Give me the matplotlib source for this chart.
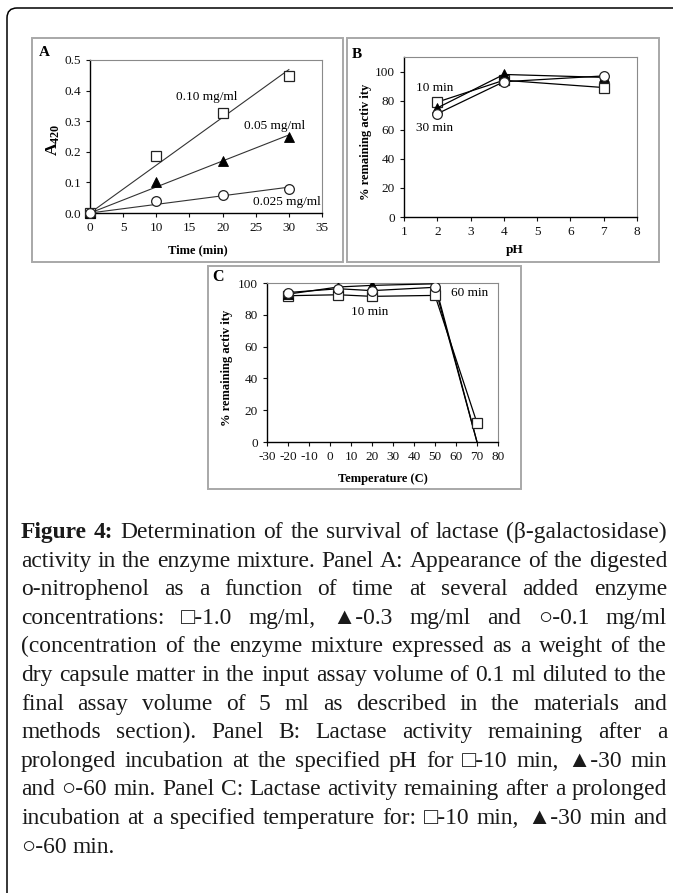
import matplotlib
matplotlib.use('Agg')
import matplotlib.pyplot as plt
import numpy as np
from matplotlib.patches import Rectangle, FancyBboxPatch

W, H = 673, 893
SERIF = ['Liberation Serif', 'DejaVu Serif', 'DejaVu Sans']
plt.rcParams['font.family'] = SERIF
plt.rcParams['mathtext.fontset'] = 'custom'
plt.rcParams['mathtext.rm'] = 'Liberation Serif'
plt.rcParams['mathtext.bf'] = 'Liberation Serif:bold'
plt.rcParams['axes.unicode_minus'] = False

# ---------------- data ----------------
a_time = [0, 10, 20, 30]
a_010 = [0, 0.187, 0.328, 0.448]
a_005 = [0, 0.100, 0.170, 0.250]
a_0025 = [0, 0.038, 0.058, 0.080]
a_labels = ['0.10 mg/ml', '0.05 mg/ml', '0.025 mg/ml']

b_ph = [2, 4, 7]
b_10 = [79, 94, 89]
b_30 = [75, 98, 96]
b_60 = [71, 93, 97]
b_labels = ['10 min', '30 min']

c_temp = [-20, 4, 20, 50, 70]
c_10 = [92, 92.6, 91.6, 92.2, 12]
c_30 = [93, 97.5, 98.5, 99.5, 0]
c_60 = [94, 96.4, 95.2, 97.3, 0]
c_labels = ['60 min', '10 min']

caption_lines = [
    "Figure 4: Determination of the survival of lactase (\u03b2-galactosidase)",
    "activity in the enzyme mixture. Panel A: Appearance of the digested",
    "o-nitrophenol as a function of time at several added enzyme",
    "concentrations: \u25a1-1.0 mg/ml, \u25b2-0.3 mg/ml and \u25cb-0.1 mg/ml",
    "(concentration of the enzyme mixture expressed as a weight of the",
    "dry capsule matter in the input assay volume of 0.1 ml diluted to the",
    "final assay volume of 5 ml as described in the materials and",
    "methods section). Panel B: Lactase activity remaining after a",
    "prolonged incubation at the specified pH for \u25a1-10 min, \u25b2-30 min",
    "and \u25cb-60 min. Panel C: Lactase activity remaining after a prolonged",
    "incubation at a specified temperature for: \u25a1-10 min, \u25b2-30 min and",
    "\u25cb-60 min.",
]
bold_words = 2  # "Figure 4:"

# ---------------- figure ----------------
fig = plt.figure(figsize=(W / 100, H / 100), dpi=100)
fig.patch.set_facecolor('white')


def fx(x):
    return x / W


def fy(y):
    return 1 - y / H


def add_ax(x0, y0, x1, y1):
    return fig.add_axes([fx(x0), fy(y1), (x1 - x0) / W, (y1 - y0) / H])


def ftext(x, y, s, **kw):
    return fig.text(fx(x), fy(y), s, **kw)


# outer rounded frame (extends beyond right & bottom)
frame = FancyBboxPatch((0.07, -0.5), 7.2, (H - 8) / 100 + 0.5,
                       boxstyle='round,pad=0,rounding_size=0.1',
                       transform=fig.dpi_scale_trans, fill=False,
                       edgecolor='black', lw=1.1)
fig.add_artist(frame)

# panel boxes
for (x0, y0, x1, y1) in [(32, 38, 343, 262), (347, 38, 659, 262), (208, 266, 521, 489)]:
    fig.add_artist(Rectangle((fx(x0), fy(y1)), (x1 - x0) / W, (y1 - y0) / H,
                             transform=fig.transFigure, fill=False,
                             edgecolor='#a8a8a8', lw=1.4))

TICK = 9.5
LAB = 9
ANN = 9.5


def style(ax):
    for s in ['top', 'right']:
        ax.spines[s].set_color('#8a8a8a')
        ax.spines[s].set_linewidth(0.8)
    for s in ['left', 'bottom']:
        ax.spines[s].set_color('black')
        ax.spines[s].set_linewidth(1.0)
    ax.tick_params(direction='out', length=3, width=0.8, labelsize=TICK,
                   pad=3.5, top=False, right=False, colors='#111111')


MS = 7
sq = dict(marker='s', mfc='white', mec='#222222', ms=MS, mew=0.9)
tri = dict(marker='^', mfc='black', mec='black', ms=MS - 0.5, mew=0.6)
cir = dict(marker='o', mfc='white', mec='#222222', ms=MS, mew=0.9)

# ---------------- panel A ----------------
axA = add_ax(90, 60, 322, 213)
style(axA)
t = np.array(a_time, dtype=float)
for ys, mk in [(a_010, sq), (a_005, tri), (a_0025, cir)]:
    y = np.array(ys)
    slope = np.sum(t * y) / np.sum(t * t)
    axA.plot([t[0], t[-1]], [slope * t[0], slope * t[-1]], color='#333333', lw=0.8, zorder=2)
    axA.plot(t, y, ls='none', zorder=3, clip_on=False, **mk)
axA.set_xlim(0, 35)
axA.set_ylim(0, 0.5)
axA.set_xticks(np.arange(0, 36, 5))
axA.set_yticks(np.arange(0, 0.51, 0.1))
axA.yaxis.set_major_formatter(matplotlib.ticker.FormatStrFormatter('%.1f'))
axA.text(17.6, 0.38, a_labels[0], fontsize=ANN, ha='center', va='center')
axA.text(27.8, 0.285, a_labels[1], fontsize=ANN, ha='center', va='center')
axA.text(29.7, 0.036, a_labels[2], fontsize=ANN, ha='center', va='center')
ftext(44, 53, 'A', fontsize=11, weight='bold', ha='center', va='center')
ftext(53, 140, r'$\mathbf{A_{420}}$', fontsize=12.5, rotation=90, ha='center', va='center')
ftext(198, 250, 'Time (min)', fontsize=LAB, weight='bold', ha='center', va='center')

# ---------------- panel B ----------------
axB = add_ax(404, 57, 637, 217)
style(axB)
for ys, mk in [(b_10, sq), (b_30, tri), (b_60, cir)]:
    axB.plot(b_ph, ys, color='black', lw=0.9, zorder=3, **mk)
axB.set_xlim(1, 8)
axB.set_ylim(0, 110)
axB.set_xticks(range(1, 9))
axB.set_yticks(range(0, 101, 20))
axB.text(1.93, 89, b_labels[0], fontsize=ANN, ha='center', va='center')
axB.text(1.93, 61, b_labels[1], fontsize=ANN, ha='center', va='center')
ftext(357, 54, 'B', fontsize=11, weight='bold', ha='center', va='center')
ftext(366, 142, '% remaining activ ity', fontsize=LAB, weight='bold', rotation=90,
      ha='center', va='center')
ftext(515, 250, 'pH', fontsize=LAB + 0.5, weight='bold', ha='center', va='center')

# ---------------- panel C ----------------
axC = add_ax(267, 283, 498, 442)
style(axC)
for ys, mk in [(c_10, sq), (c_30, tri), (c_60, cir)]:
    ys = np.array(ys, dtype=float)
    tt = np.array(c_temp, dtype=float)
    axC.plot(tt, ys, color='black', lw=0.9, zorder=3)
    keep = ys > 0
    axC.plot(tt[keep], ys[keep], ls='none', zorder=4, **mk)
axC.set_xlim(-30, 80)
axC.set_ylim(0, 100)
axC.set_xticks(range(-30, 81, 10))
axC.set_yticks(range(0, 101, 20))
axC.text(66.5, 93.4, c_labels[0], fontsize=ANN, ha='center', va='center')
axC.text(19, 81.6, c_labels[1], fontsize=ANN, ha='center', va='center')
ftext(218, 277, 'C', fontsize=11.5, weight='bold', ha='center', va='center')
ftext(227, 368, '% remaining activ ity', fontsize=LAB, weight='bold', rotation=90,
      ha='center', va='center')
ftext(383, 479, 'Temperature (C)', fontsize=LAB, weight='bold', ha='center', va='center')

# ---------------- caption (justified) ----------------
renderer = fig.canvas.get_renderer()
X_LEFT, X_RIGHT = 21, 667
Y0, DY = 538, 28.6
TEXT_COLOR = '#1a1a1a'


def width_of(s, size, weight):
    tt = fig.text(0, 0, s, fontsize=size, weight=weight)
    w = tt.get_window_extent(renderer).width
    tt.remove()
    return w


def tokens(i, line):
    words = line.split(' ')
    out = []
    for j, w in enumerate(words):
        out.append((w, 'bold' if (i == 0 and j < bold_words) else 'normal'))
    return out


def natural(i, line, size):
    tk = tokens(i, line)
    sp = width_of('a a', size, 'normal') - width_of('aa', size, 'normal')
    return sum(width_of(w, size, wt) for w, wt in tk) + sp * (len(tk) - 1)


base = 10.0
maxw = max(natural(i, l, base) for i, l in enumerate(caption_lines[:-1]))
size = base * (X_RIGHT - X_LEFT) / maxw * 0.995
space = width_of('a a', size, 'normal') - width_of('aa', size, 'normal')

for i, line in enumerate(caption_lines):
    tk = tokens(i, line)
    ws = [width_of(w, size, wt) for w, wt in tk]
    if i < len(caption_lines) - 1 and len(tk) > 1:
        gap = ((X_RIGHT - X_LEFT) - sum(ws)) / (len(tk) - 1)
    else:
        gap = space
    x = X_LEFT
    y = Y0 + i * DY
    for (w, wt), wd in zip(tk, ws):
        ftext(x, y, w, fontsize=size, weight=wt, ha='left', va='baseline', color=TEXT_COLOR)
        x += wd + gap

fig.savefig('out.png', dpi=100, facecolor='white')
